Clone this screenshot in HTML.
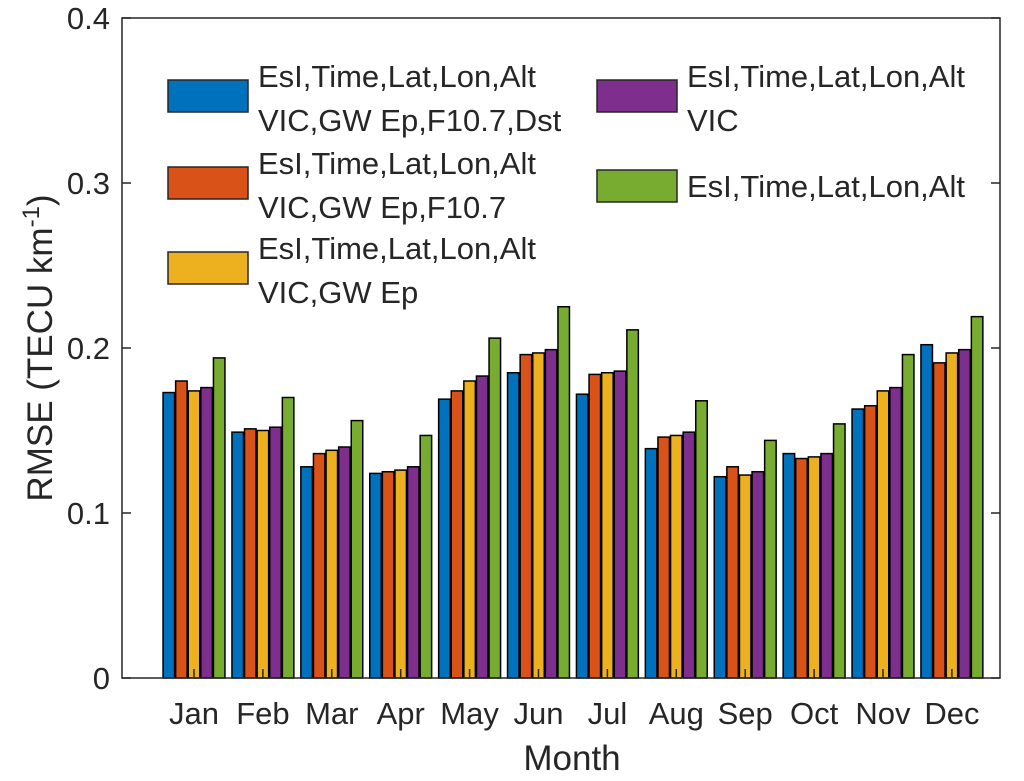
<!DOCTYPE html>
<html><head><meta charset="utf-8"><style>
body{margin:0;background:#fff}
svg text{font-family:"Liberation Sans",Arial,sans-serif;fill:#262626}
</style></head><body>
<svg id="c" width="1024" height="776" xmlns="http://www.w3.org/2000/svg"></svg>
<script>
const months=["Jan","Feb","Mar","Apr","May","Jun","Jul","Aug","Sep","Oct","Nov","Dec"];
const s1=[0.173,0.149,0.128,0.124,0.169,0.185,0.172,0.139,0.122,0.136,0.163,0.202];
const s2=[0.180,0.151,0.136,0.125,0.174,0.196,0.184,0.146,0.128,0.133,0.165,0.191];
const s3=[0.174,0.150,0.138,0.126,0.180,0.197,0.185,0.147,0.123,0.134,0.174,0.197];
const s4=[0.176,0.152,0.140,0.128,0.183,0.199,0.186,0.149,0.125,0.136,0.176,0.199];
const s5=[0.194,0.170,0.156,0.147,0.206,0.225,0.211,0.168,0.144,0.154,0.196,0.219];
const yTicks=[0,0.1,0.2,0.3,0.4];
const yTickLabels=["0","0.1","0.2","0.3","0.4"];
const series=[s1,s2,s3,s4,s5];
const colors=["#0072BD","#D95319","#EDB120","#7E2F8E","#77AC30"];
const svg=document.getElementById('c');
const NS="http://www.w3.org/2000/svg";
const L=122,R=1000,T=18,B=678;
const y=v=>B-(v/0.4)*(B-T);
const x=i=>194+i*68.9;
function mk(tag,attrs,txt){const e=document.createElementNS(NS,tag);for(const k in attrs)e.setAttribute(k,attrs[k]);if(txt!==undefined)e.textContent=txt;svg.appendChild(e);return e;}
const bw=11.5,step=12.6;
series.forEach((s,si)=>{s.forEach((v,i)=>{
 const cx=x(i)+(si-2)*step;
 const r=mk('rect',{x:cx-bw/2,y:y(v),width:bw,height:B-y(v),fill:colors[si],stroke:'#000','stroke-width':1.5});
 
 
});});
const box=mk('rect',{x:L,y:T,width:R-L,height:B-T,fill:'none',stroke:'#262626','stroke-width':1.5});


yTicks.forEach((t,i)=>{
 mk('line',{x1:L,x2:L+9,y1:y(t),y2:y(t),stroke:'#262626','stroke-width':1.5});
 mk('line',{x1:R,x2:R-9,y1:y(t),y2:y(t),stroke:'#262626','stroke-width':1.5});
 const tl=mk('text',{x:L-12,y:y(t)+11,'text-anchor':'end','font-size':31},yTickLabels[i]);
 
 
});
months.forEach((m,i)=>{
 mk('line',{x1:x(i),x2:x(i),y1:B,y2:B-9,stroke:'#262626','stroke-width':1.5});
 const tl=mk('text',{x:x(i),y:724,'text-anchor':'middle','font-size':31},m);
 
 
});
const xt=mk('text',{x:572,y:770,'text-anchor':'middle','font-size':35},'Month');


const yt=mk('text',{transform:'translate(52,348) rotate(-90)','text-anchor':'middle','font-size':35});


yt.innerHTML='RMSE (TECU km<tspan dy="-13" font-size="24">-1</tspan><tspan dy="13">)</tspan>';
const leg=[
 {x:168,y:80,c:0,l:["EsI,Time,Lat,Lon,Alt","VIC,GW Ep,F10.7,Dst"]},
 {x:168,y:167,c:1,l:["EsI,Time,Lat,Lon,Alt","VIC,GW Ep,F10.7"]},
 {x:168,y:252,c:2,l:["EsI,Time,Lat,Lon,Alt","VIC,GW Ep"]},
 {x:597,y:80,c:3,l:["EsI,Time,Lat,Lon,Alt","VIC"]},
 {x:597,y:170,c:4,l:["EsI,Time,Lat,Lon,Alt"]}
];
leg.forEach(e=>{
 const r=mk('rect',{x:e.x,y:e.y,width:80,height:32,fill:colors[e.c],stroke:'#262626','stroke-width':1.5});
 
 
 e.l.forEach((t,k)=>{
  const off=e.l.length===2?(k===0?7:51):27;
  const tx=mk('text',{x:e.x+90,y:e.y+off,'font-size':31},t);
  
  
 });
});
</script>
</body></html>
